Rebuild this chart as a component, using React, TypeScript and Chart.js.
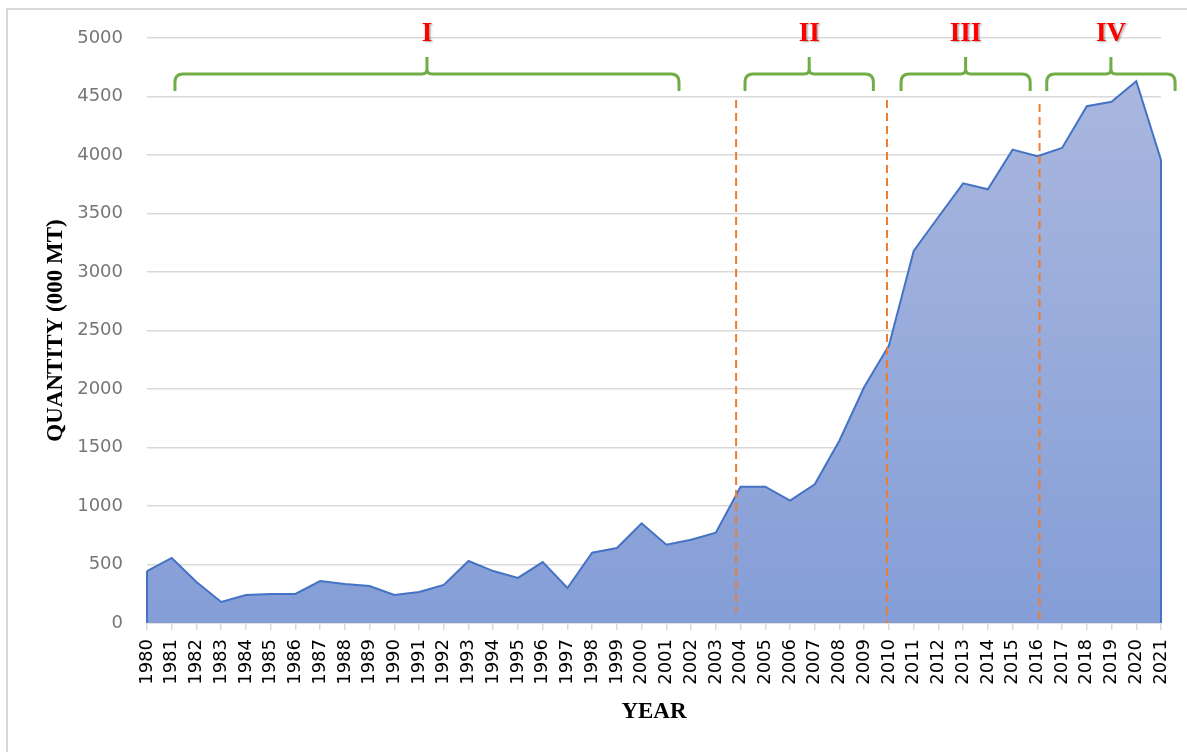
import React, { useEffect, useRef } from "react";
import { Chart, registerables } from "chart.js";

Chart.register(...registerables);

// ---- data ----
const years: string[] = [
  "1980", "1981", "1982", "1983", "1984", "1985", "1986", "1987", "1988", "1989",
  "1990", "1991", "1992", "1993", "1994", "1995", "1996", "1997", "1998", "1999",
  "2000", "2001", "2002", "2003", "2004", "2005", "2006", "2007", "2008", "2009",
  "2010", "2011", "2012", "2013", "2014", "2015", "2016", "2017", "2018", "2019",
  "2020", "2021",
];
const quantity: number[] = [
  444, 556, 350, 180, 240, 248, 248, 359, 333, 316,
  240, 265, 325, 530, 444, 385, 521, 299, 601, 641,
  852, 669, 712, 772, 1165, 1165, 1046, 1185, 1560, 2017,
  2372, 3180, 3470, 3758, 3707, 4046, 3990, 4060, 4417, 4455,
  4631, 3957,
];
const yTickStep = 500;
const yMax = 5000;

// period annotations (positions in year units)
const periodLabels: string[] = ["I", "II", "III", "IV"];
const periodStart: number[] = [1981.13, 2004.18, 2010.49, 2016.38];
const periodEnd: number[] = [2001.51, 2009.37, 2015.71, 2021.57];
const braceBarValue = 4692;
const braceEndValue = 4547;
const bracePeakValue = 4838;
const periodLabelValue = 5034;

// dashed dividers
const dividerYears: number[] = [2003.82, 2009.92, 2016.09];
const dividerTop: number[] = [4470, 4470, 4436];
const dividerBottom: number[] = [94, 0, 0];

const firstYear = Number(years[0]);

const annotationPlugin = {
  id: "annotations",
  afterDatasetsDraw(chart: any) {
    const ctx: CanvasRenderingContext2D = chart.ctx;
    const xs = chart.scales.x;
    const ys = chart.scales.y;
    const px = (yr: number) => xs.getPixelForValue(yr - firstYear);
    const py = (v: number) => ys.getPixelForValue(v);

    // vertical edges of the area
    const meta = chart.getDatasetMeta(0);
    const pts = meta.data;
    const base = py(0);
    ctx.save();
    ctx.strokeStyle = "#4472C4";
    ctx.lineWidth = 2;
    [pts[0], pts[pts.length - 1]].forEach((p: any) => {
      ctx.beginPath();
      ctx.moveTo(p.x, p.y);
      ctx.lineTo(p.x, base);
      ctx.stroke();
    });
    ctx.restore();

    // dashed dividers
    ctx.save();
    ctx.strokeStyle = "#ED7D31";
    ctx.lineWidth = 2;
    ctx.setLineDash([8, 5]);
    dividerYears.forEach((yr, i) => {
      const x = px(yr);
      ctx.beginPath();
      ctx.moveTo(x, py(dividerTop[i]));
      ctx.lineTo(x, py(dividerBottom[i]));
      ctx.stroke();
    });
    ctx.restore();

    // braces
    ctx.save();
    ctx.strokeStyle = "#70AD47";
    ctx.lineWidth = 3;
    ctx.lineJoin = "round";
    ctx.lineCap = "butt";
    const yH = py(braceBarValue);
    const yB = py(braceEndValue);
    const yP = py(bracePeakValue);
    periodLabels.forEach((_, i) => {
      const xL = px(periodStart[i]);
      const xR = px(periodEnd[i]);
      const xC = (xL + xR) / 2;
      const r = 8;
      const rc = 5;
      ctx.beginPath();
      ctx.moveTo(xL, yB);
      ctx.lineTo(xL, yH + r);
      ctx.quadraticCurveTo(xL, yH, xL + r, yH);
      ctx.lineTo(xC - rc, yH);
      ctx.quadraticCurveTo(xC, yH, xC, yH - rc);
      ctx.lineTo(xC, yP);
      ctx.moveTo(xC, yH - rc);
      ctx.quadraticCurveTo(xC, yH, xC + rc, yH);
      ctx.lineTo(xR - r, yH);
      ctx.quadraticCurveTo(xR, yH, xR, yH + r);
      ctx.lineTo(xR, yB);
      ctx.stroke();
    });
    ctx.restore();

    // period labels
    ctx.save();
    ctx.font = "bold 27px 'Liberation Serif', 'Times New Roman', serif";
    ctx.fillStyle = "#FF0000";
    ctx.textAlign = "center";
    ctx.textBaseline = "middle";
    ctx.shadowColor = "rgba(0,0,0,0.35)";
    ctx.shadowOffsetX = 1.5;
    ctx.shadowOffsetY = 1.5;
    ctx.shadowBlur = 2;
    periodLabels.forEach((lab, i) => {
      const xC = (px(periodStart[i]) + px(periodEnd[i])) / 2;
      ctx.fillText(lab, xC, py(periodLabelValue));
    });
    ctx.restore();
  },
};

export default function App() {
  const canvasRef = useRef<HTMLCanvasElement | null>(null);

  useEffect(() => {
    const canvas = canvasRef.current;
    if (!canvas) return;
    const chart = new Chart(canvas, {
      type: "line",
      data: {
        labels: years,
        datasets: [
          {
            data: quantity,
            borderColor: "#4472C4",
            borderWidth: 2,
            pointRadius: 0,
            tension: 0,
            fill: "origin",
            backgroundColor: (c: any) => {
              const area = c.chart.chartArea;
              if (!area) return "#8fa3d9";
              const g = c.chart.ctx.createLinearGradient(0, area.top, 0, area.bottom);
              g.addColorStop(0, "#acb9df");
              g.addColorStop(1, "#859ed7");
              return g;
            },
          },
        ],
      },
      options: {
        animation: false,
        responsive: false,
        layout: { padding: { top: 38, right: 26, bottom: 0, left: 0 } },
        plugins: {
          legend: { display: false },
          tooltip: { enabled: false },
        },
        scales: {
          x: {
            type: "category",
            offset: false,
            grid: {
              drawOnChartArea: false,
              drawTicks: true,
              tickLength: 7,
              color: "#d9d9d9",
              lineWidth: 1.5,
            },
            border: { display: true, color: "#d9d9d9", width: 1.5 },
            ticks: {
              autoSkip: false,
              minRotation: 90,
              maxRotation: 90,
              padding: 9,
              color: "#000000",
              font: { family: "'DejaVu Sans', sans-serif", size: 18 },
            },
            title: {
              display: true,
              text: "YEAR",
              color: "#000000",
              font: { family: "'Liberation Serif', 'Times New Roman', serif", size: 23, weight: "bold" },
              padding: { top: 0, bottom: 26 },
            },
            afterFit: (s: any) => {
              s.height = 129;
              s.paddingLeft = 0;
              s.paddingRight = 0;
            },
          },
          y: {
            min: 0,
            max: yMax,
            ticks: {
              stepSize: yTickStep,
              color: "#767676",
              padding: 24,
              font: { family: "'DejaVu Sans', sans-serif", size: 18 },
              callback: (v: any) => String(v),
            },
            grid: { color: "#d9d9d9", lineWidth: 1.5, drawTicks: false },
            border: { display: false },
            title: {
              display: true,
              text: "QUANTITY (000 MT)",
              color: "#000000",
              font: { family: "'Liberation Serif', 'Times New Roman', serif", size: 23, weight: "bold" },
              padding: { top: 42, bottom: 0 },
            },
            afterFit: (s: any) => {
              s.width = 147;
              s.paddingTop = 0;
              s.paddingBottom = 0;
            },
          },
        },
      } as any,
      plugins: [annotationPlugin],
    });
    return () => chart.destroy();
  }, []);

  return (
    <div
      style={{
        position: "fixed",
        left: 0,
        top: 0,
        width: 1187,
        height: 752,
        overflow: "hidden",
        background: "#ffffff",
      }}
    >
      <div
        style={{
          position: "absolute",
          left: 6,
          top: 8,
          width: 1300,
          height: 900,
          borderLeft: "2px solid #d9d9d9",
          borderTop: "2px solid #d9d9d9",
        }}
      />
      <canvas
        ref={canvasRef}
        width={1187}
        height={752}
        style={{ position: "absolute", left: 0, top: 0, width: 1187, height: 752 }}
      />
    </div>
  );
}
